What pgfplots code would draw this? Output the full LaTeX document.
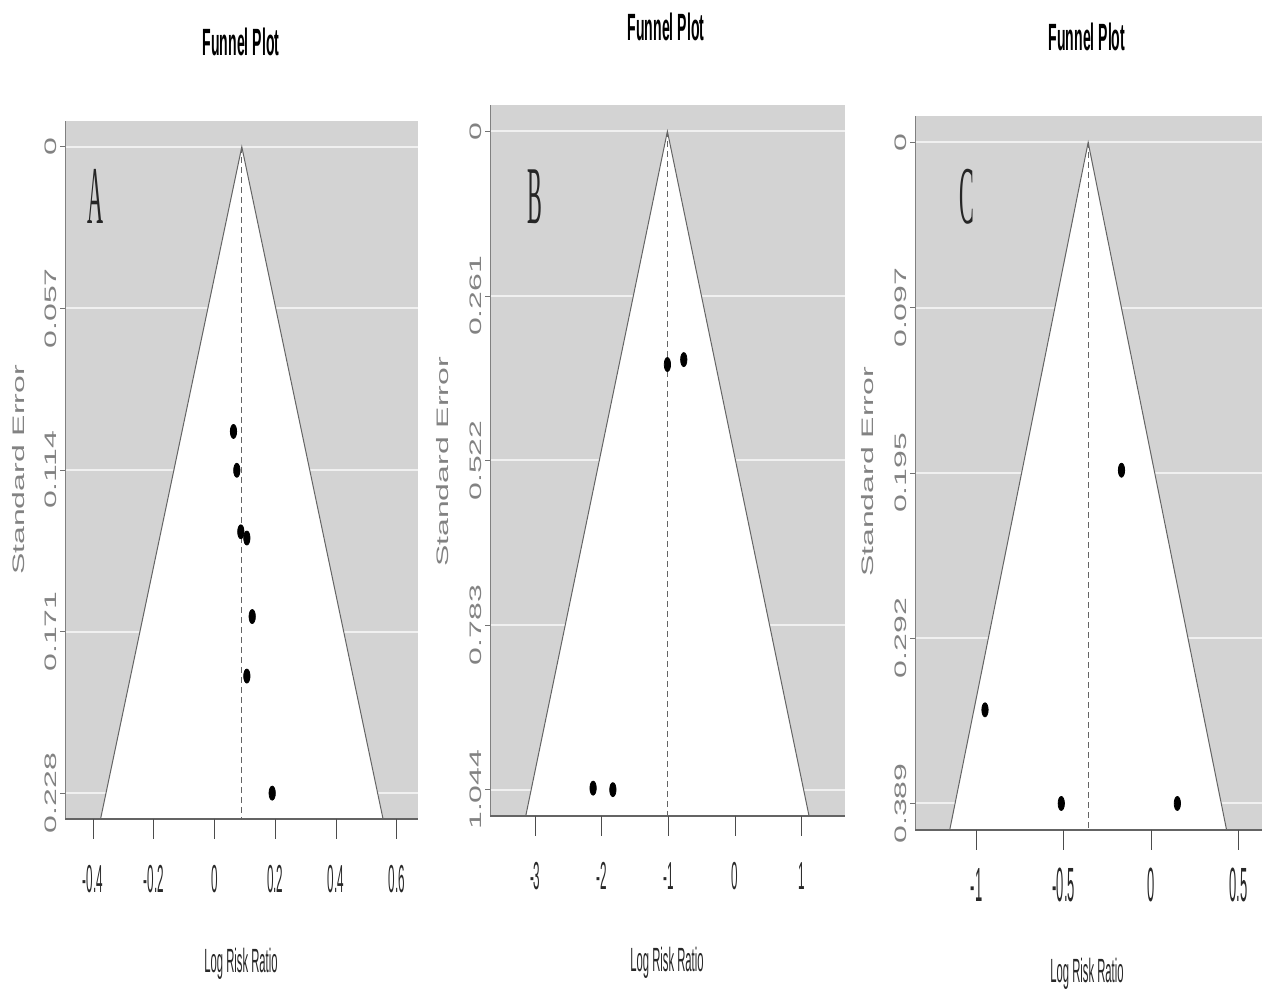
\documentclass[border=0pt]{standalone}
\usepackage{fontspec}
\setmainfont{Liberation Sans}
\newfontfamily\letterfont{Liberation Serif}
\usepackage{pgfplots}
\pgfplotsset{compat=1.18}

\definecolor{bg}{RGB}{211,211,211}
\definecolor{edge}{RGB}{100,100,100}
\definecolor{lab}{RGB}{130,130,130}
\definecolor{txt}{RGB}{40,40,40}
\definecolor{grd}{RGB}{240,240,240}

\newcommand{\xtl}[1]{\scalebox{0.3}[1]{\fontsize{19.5}{19.5}\selectfont #1}}
\newcommand{\xtlc}[1]{\scalebox{0.27}[1]{\fontsize{24}{24}\selectfont #1}}
\newcommand{\ytl}[1]{\scalebox{1}[0.52]{\fontsize{16}{16}\selectfont #1}}
\newcommand{\ttl}{\scalebox{0.37}[1]{\fontsize{19}{19}\selectfont\bfseries Funnel Plot}}
\newcommand{\xlab}{\scalebox{0.335}[1]{\fontsize{16.8}{16.8}\selectfont Log Risk Ratio}}
\newcommand{\ylab}{\scalebox{1}[0.52]{\fontsize{16}{16}\selectfont Standard Error}}
\newcommand{\plet}[1]{\scalebox{0.27}[1]{\fontsize{41}{41}\selectfont\letterfont #1}}

\pgfplotsset{funnel/.style={
  scale only axis, anchor=south west,
  y dir=reverse,
  axis x line*=bottom, axis y line*=left,
  axis line style={draw=none},
  major tick length=0pt,
  tick style={draw=none},
  xticklabel style={anchor=north, inner sep=0pt, yshift=-13pt, text=txt},
  yticklabel style={rotate=90, anchor=south, inner sep=0pt, text=lab},
  yticklabel shift=1.5pt,
  title style={anchor=center},
  xlabel style={anchor=center, text=txt},
  ylabel style={anchor=center, rotate=0, text=lab},
  clip=false,
}}

\begin{document}
\begin{tikzpicture}
\path[use as bounding box] (0,0) rectangle (632pt,495.5pt);

% Panel A
\begin{axis}[funnel,
  at={(30pt,76pt)}, width=179pt, height=359pt,
  xmin=-0.5085, xmax=0.670, ymin=-0.00912, ymax=0.24418,
  xtick={-0.4,-0.2,0,0.2,0.4,0.6},
  xticklabels={\xtl{-0.4},\xtl{-0.2},\xtl{0},\xtl{0.2},\xtl{0.4},\xtl{0.6}},
  ytick={0,0.057,0.114,0.171,0.228},
  yticklabels={\ytl{0},\ytl{0.057},\ytl{0.114},\ytl{0.171},\ytl{0.228}},
  title={\ttl}, title style={at={(axis description cs:0.5056,1.0933)}},
  xlabel={\xlab}, xlabel style={at={(axis description cs:0.5056,-0.1741)}},
  ylabel={\ylab}, ylabel style={at={(axis description cs:-0.1145,0.5139)}},
]
\addplot[fill=bg, draw=none, forget plot] coordinates {(-0.492,-0.00912) (0.670,-0.00912) (0.670,0.23712) (-0.492,0.23712)} -- cycle;
\pgfplotsinvokeforeach{0,0.057,0.114,0.171,0.228}{
  \addplot[grd, line width=1pt, forget plot] coordinates {(-0.492,#1) (0.670,#1)};
  \addplot[black!55, line width=0.4pt, forget plot] coordinates {(-0.5085,#1) (-0.492,#1)};}
\addplot[fill=white, draw=edge, line width=0.5pt] coordinates {(-0.375,0.23712) (0.090,0) (0.555,0.23712)};
\addplot[densely dashed, draw=edge, line width=0.4pt] coordinates {(0.090,0) (0.090,0.23712)};
\addplot[gray, line width=0.4pt, forget plot] coordinates {(-0.492,-0.00912) (-0.492,0.23712)};
\addplot[edge, line width=1.2pt, forget plot] coordinates {(-0.492,0.23712) (0.670,0.23712)};
\pgfplotsinvokeforeach{-0.4,-0.2,0,0.2,0.4,0.6}{
  \addplot[black!70, line width=0.4pt, forget plot] coordinates {(#1,0.23712) (#1,0.24418)};}
\addplot[only marks, mark=*, mark size=3.5pt, mark options={xscale=0.45, fill=black, draw=black}]
  coordinates {(0.0626,0.1004) (0.0736,0.1141) (0.0868,0.1358) (0.1066,0.1380) (0.1242,0.1657) (0.1066,0.1867) (0.190,0.228)};
\node[text=black!85] at (axis description cs:0.0978,0.8955) {\plet{A}};
\end{axis}

% Panel B
\begin{axis}[funnel,
  at={(242.5pt,77.5pt)}, width=180pt, height=365.5pt,
  xmin=-3.755, xmax=1.653, ymin=-0.04176, ymax=1.1175,
  xtick={-3,-2,-1,0,1},
  xticklabels={\xtl{-3},\xtl{-2},\xtl{-1},\xtl{0},\xtl{1}},
  ytick={0,0.261,0.522,0.783,1.044},
  yticklabels={\ytl{0},\ytl{0.261},\ytl{0.522},\ytl{0.783},\ytl{1.044}},
  title={\ttl}, title style={at={(axis description cs:0.5028,1.0903)}},
  xlabel={\xlab}, xlabel style={at={(axis description cs:0.5056,-0.1737)}},
  ylabel={\ylab}, ylabel style={at={(axis description cs:-0.1167,0.5116)}},
]
\addplot[fill=bg, draw=none, forget plot] coordinates {(-3.68,-0.04176) (1.653,-0.04176) (1.653,1.08576) (-3.68,1.08576)} -- cycle;
\pgfplotsinvokeforeach{0,0.261,0.522,0.783,1.044}{
  \addplot[grd, line width=1pt, forget plot] coordinates {(-3.68,#1) (1.653,#1)};
  \addplot[black!55, line width=0.4pt, forget plot] coordinates {(-3.755,#1) (-3.68,#1)};}
\addplot[fill=white, draw=edge, line width=0.5pt] coordinates {(-3.143,1.08576) (-1.015,0) (1.113,1.08576)};
\addplot[densely dashed, draw=edge, line width=0.4pt] coordinates {(-1.015,0) (-1.015,1.08576)};
\addplot[gray, line width=0.4pt, forget plot] coordinates {(-3.68,-0.04176) (-3.68,1.08576)};
\addplot[edge, line width=1.2pt, forget plot] coordinates {(-3.68,1.08576) (1.653,1.08576)};
\pgfplotsinvokeforeach{-3,-2,-1,0,1}{
  \addplot[black!70, line width=0.4pt, forget plot] coordinates {(#1,1.08576) (#1,1.1175)};}
\addplot[only marks, mark=*, mark size=3.5pt, mark options={xscale=0.45, fill=black, draw=black}]
  coordinates {(-1.015,0.3698) (-0.769,0.3620) (-2.131,1.0416) (-1.834,1.044)};
\node[text=black!85] at (axis description cs:0.1389,0.8741) {\plet{B}};
\end{axis}

% Panel C
\begin{axis}[funnel,
  at={(455pt,70.5pt)}, width=176pt, height=367pt,
  xmin=-1.3807, xmax=0.636, ymin=-0.01556, ymax=0.4164,
  xtick={-1,-0.5,0,0.5},
  xticklabels={\xtlc{-1},\xtlc{-0.5},\xtlc{0},\xtlc{0.5}},
  xticklabel style={yshift=4pt},
  ytick={0,0.09725,0.1945,0.29175,0.389},
  yticklabels={\ytl{0},\ytl{0.097},\ytl{0.195},\ytl{0.292},\ytl{0.389}},
  title={\ttl}, title style={at={(axis description cs:0.5028,1.0913)}},
  xlabel={\xlab}, xlabel style={at={(axis description cs:0.5028,-0.1689)}},
  ylabel={\ylab}, ylabel style={at={(axis description cs:-0.1193,0.515)}},
]
\addplot[fill=bg, draw=none, forget plot] coordinates {(-1.352,-0.01556) (0.636,-0.01556) (0.636,0.40456) (-1.352,0.40456)} -- cycle;
\pgfplotsinvokeforeach{0,0.09725,0.1945,0.29175,0.389}{
  \addplot[grd, line width=1pt, forget plot] coordinates {(-1.352,#1) (0.636,#1)};
  \addplot[black!55, line width=0.4pt, forget plot] coordinates {(-1.3807,#1) (-1.352,#1)};}
\addplot[fill=white, draw=edge, line width=0.5pt] coordinates {(-1.153,0.40456) (-0.360,0) (0.433,0.40456)};
\addplot[densely dashed, draw=edge, line width=0.4pt] coordinates {(-0.360,0) (-0.360,0.40456)};
\addplot[gray, line width=0.4pt, forget plot] coordinates {(-1.352,-0.01556) (-1.352,0.40456)};
\addplot[edge, line width=1.2pt, forget plot] coordinates {(-1.352,0.40456) (0.636,0.40456)};
\pgfplotsinvokeforeach{-1,-0.5,0,0.5}{
  \addplot[black!70, line width=0.4pt, forget plot] coordinates {(#1,0.40456) (#1,0.4164)};}
\addplot[only marks, mark=*, mark size=3.5pt, mark options={xscale=0.45, fill=black, draw=black}]
  coordinates {(-0.951,0.3339) (-0.514,0.389) (-0.169,0.1929) (0.151,0.389)};
\node[text=black!85] at (axis description cs:0.1619,0.8896) {\plet{C}};
\end{axis}
\end{tikzpicture}
\end{document}
